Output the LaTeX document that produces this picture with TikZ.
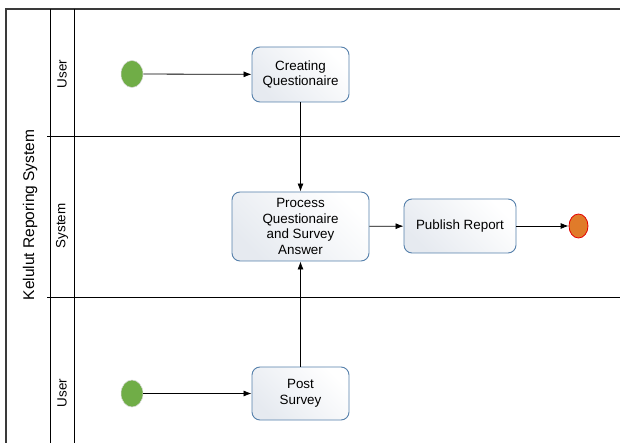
\documentclass[tikz,border=0pt]{standalone}
\usepackage{fontspec}
\setmainfont{Liberation Sans}
\usetikzlibrary{shapes.geometric,arrows.meta}
\definecolor{boxedge}{HTML}{5580AB}
\definecolor{boxfill}{HTML}{E6EAF0}
\definecolor{startgreen}{HTML}{70AD47}
\definecolor{endorange}{HTML}{E07B2A}
\definecolor{poolline}{HTML}{3A3A3A}
\tikzset{
  activity/.style={draw=boxedge, line width=0.9pt, rounded corners=8pt,
    left color=white, right color=boxfill, shading angle=-45,
    align=center, inner sep=0pt, font=\fontsize{13.4}{15.5}\selectfont},
  startev/.style={ellipse, draw=gray!30, line width=0.5pt, fill=startgreen,
    minimum width=22pt, minimum height=27pt, inner sep=0pt},
  endev/.style={ellipse, draw=red!90!black, line width=0.8pt, fill=endorange,
    minimum width=19pt, minimum height=24pt, inner sep=0pt},
  flow/.style={draw=black, line width=0.8pt, -{Latex[length=8pt,width=6pt]}},
  lane/.style={draw=black, line width=0.8pt},
  lanelabel/.style={rotate=90, font=\fontsize{13.4}{15}\selectfont},
}
\begin{document}
\begin{tikzpicture}[x=1pt,y=-1pt]
  \useasboundingbox[fill=white] (0,0) rectangle (620,443);

  % pool frame and lane separators
  \draw[draw=poolline, line width=1.3pt] (6,443) -- (6,9) -- (620,9);
  \draw[lane] (50,9) -- (50,443);
  \draw[lane] (74,9) -- (74,443);
  \draw[lane] (47,136) -- (620,136);
  \draw[lane] (47,297) -- (620,297);

  % pool and lane titles
  \node[rotate=90, font=\fontsize{15.5}{18}\selectfont] (pool) at (30,215) {Kelulut Reporing System};
  \node[lanelabel] (lane1) at (62,74) {User};
  \node[lanelabel] (lane2) at (62,226) {System};
  \node[lanelabel] (lane3) at (62,393) {User};

  % events
  \node[startev] (s1) at (132,74) {};
  \node[startev] (s2) at (132,393.5) {};
  \node[endev] (e1) at (578.5,226) {};

  % activities
  \node[activity, minimum width=97pt, minimum height=55pt] (create) at (300.5,74.5) {Creating\\Questionaire};
  \node[activity, minimum width=137pt, minimum height=69pt] (process) at (300.5,226.5) {Process\\Questionaire\\and Survey\\Answer};
  \node[activity, minimum width=112pt, minimum height=54pt] (publish) at (460,226) {Publish Report};
  \node[activity, minimum width=97pt, minimum height=53pt] (post) at (300.5,393.5) {Post\\Survey};

  % sequence flows
  \draw[flow] (s1) -- (create);
  \draw[flow] (create) -- (process);
  \draw[flow] (s2) -- (post);
  \draw[flow] (post) -- (process);
  \draw[flow] (process) -- (publish);
  \draw[flow] (publish) -- (e1);
\end{tikzpicture}
\end{document}
